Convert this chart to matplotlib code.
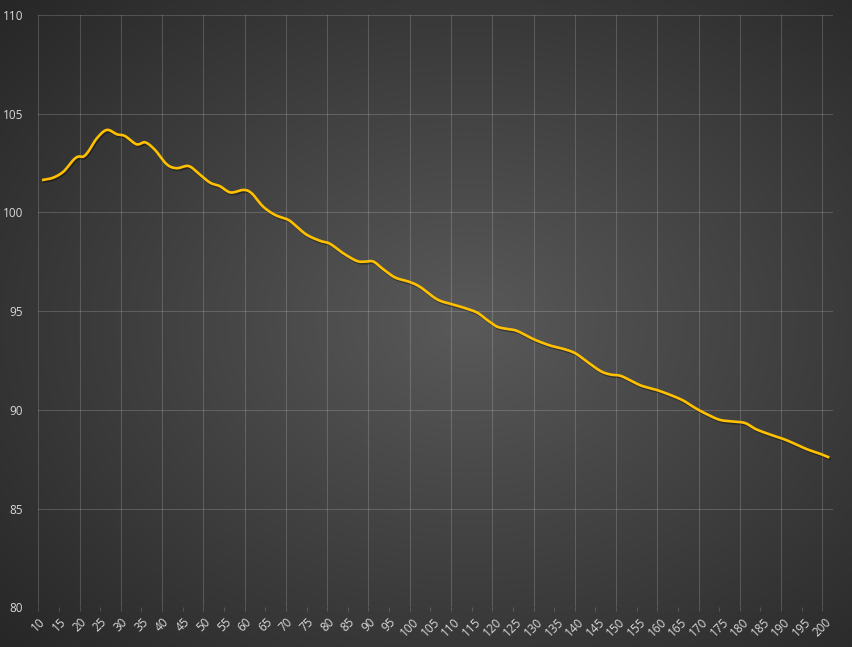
import numpy as np
import matplotlib
matplotlib.use("Agg")
from matplotlib import pyplot as plt
import matplotlib.patheffects as pe

# values
xs = [11.2, 13.6, 16.1, 18.5, 19.7, 20.9, 22.1, 24.2, 26.6, 29.0, 31.0, 33.8,
      35.9, 38.3, 41.1, 43.5, 46.4, 48.8, 51.6, 54.0, 56.6, 59.7, 61.7, 64.5,
      67.4, 70.6, 72.6, 75.1, 78.3, 80.7, 83.9, 87.2, 89.2, 91.2, 93.6, 96.5,
      99.7, 102.5, 106.6, 110.2, 113.0, 116.3, 118.7, 121.1, 123.5, 126.0,
      130.0, 134.0, 137.2, 140.1, 142.9, 146.2, 148.6, 151.0, 153.4, 156.2,
      159.8, 163.1, 166.3, 169.2, 172.0, 175.2, 178.4, 181.3, 183.7, 186.9,
      190.6, 193.0, 196.2, 199.0, 201.4]
ys = [101.65, 101.76, 102.07, 102.66, 102.83, 102.83, 103.08, 103.76, 104.18,
      103.96, 103.87, 103.45, 103.55, 103.16, 102.44, 102.24, 102.35, 101.98,
      101.51, 101.33, 101.01, 101.14, 100.97, 100.29, 99.87, 99.62, 99.28,
      98.86, 98.56, 98.41, 97.93, 97.54, 97.51, 97.51, 97.12, 96.70, 96.50,
      96.23, 95.60, 95.35, 95.18, 94.93, 94.56, 94.22, 94.10, 94.00, 93.58,
      93.26, 93.09, 92.87, 92.45, 91.97, 91.79, 91.73, 91.50, 91.22, 91.01,
      90.76, 90.47, 90.09, 89.78, 89.49, 89.41, 89.33, 89.04, 88.78, 88.52,
      88.31, 88.01, 87.81, 87.61]
x_ticks = list(range(10, 201, 5))
y_ticks = [80, 85, 90, 95, 100, 105, 110]


def smooth_path(x, y, steps=12):
    # Catmull-Rom curve through the points, like a "smoothed line" option
    x = np.asarray(x, float)
    y = np.asarray(y, float)
    px = np.concatenate([[2 * x[0] - x[1]], x, [2 * x[-1] - x[-2]]])
    py = np.concatenate([[2 * y[0] - y[1]], y, [2 * y[-1] - y[-2]]])
    t = np.linspace(0, 1, steps, endpoint=False)
    outx, outy = [], []
    for i in range(1, len(px) - 2):
        for p, out in ((px, outx), (py, outy)):
            p0, p1, p2, p3 = p[i - 1], p[i], p[i + 1], p[i + 2]
            out.extend(0.5 * (2 * p1 + (-p0 + p2) * t
                              + (2 * p0 - 5 * p1 + 4 * p2 - p3) * t ** 2
                              + (-p0 + 3 * p1 - 3 * p2 + p3) * t ** 3))
    outx.append(x[-1])
    outy.append(y[-1])
    return outx, outy


plt.rcParams['font.family'] = ['Open Sans', 'DejaVu Sans']

fig = plt.figure(figsize=(8.52, 6.47), dpi=100)

# radial gradient background
bg = fig.add_axes([0, 0, 1, 1], zorder=-1)
gx, gy = np.meshgrid(np.linspace(0, 1, 400), np.linspace(0, 1, 300))
r = np.sqrt(((gx - 0.55) / 0.75) ** 2 + ((gy - 0.5) / 0.75) ** 2)
r = np.clip(r, 0, 1)
shade = 0.35 - (0.35 - 0.15) * r
bg.imshow(np.dstack([shade, shade, shade]), extent=[0, 1, 0, 1],
          aspect='auto', origin='lower', interpolation='bicubic')
bg.axis('off')

ax = fig.add_axes([0.045, 0.0614, 0.9323, 0.9154])
ax.patch.set_alpha(0)
for s in ax.spines.values():
    s.set_visible(False)

grid_c = (1, 1, 1, 0.17)
for v in y_ticks:
    ax.axhline(v, color=grid_c, lw=0.8, zorder=1)
for v in x_ticks:
    if v % 10 == 0:
        ax.axvline(v, color=grid_c, lw=0.8, zorder=1)

sx, sy = smooth_path(xs, ys)
ax.plot(sx, sy, color='#FFC000', lw=1.9, zorder=3, solid_joinstyle='round',
        path_effects=[pe.SimpleLineShadow(offset=(0.8, -1.2), shadow_color='black', alpha=0.35),
                      pe.Normal()])

ax.set_xlim(10, 202.5)
ax.set_ylim(80, 110)
ax.set_xticks(x_ticks)
ax.set_xticklabels([str(t) for t in x_ticks], rotation=45, ha='center', va='top')
ax.set_yticks(y_ticks)
ax.tick_params(axis='x', colors=grid_c, labelcolor='#d9d9d9', length=3, width=0.8,
               pad=3, labelsize=8.5)
ax.tick_params(axis='y', length=0, labelcolor='#d9d9d9', pad=11, labelsize=8.5)

fig.savefig('out.png', dpi=100)
